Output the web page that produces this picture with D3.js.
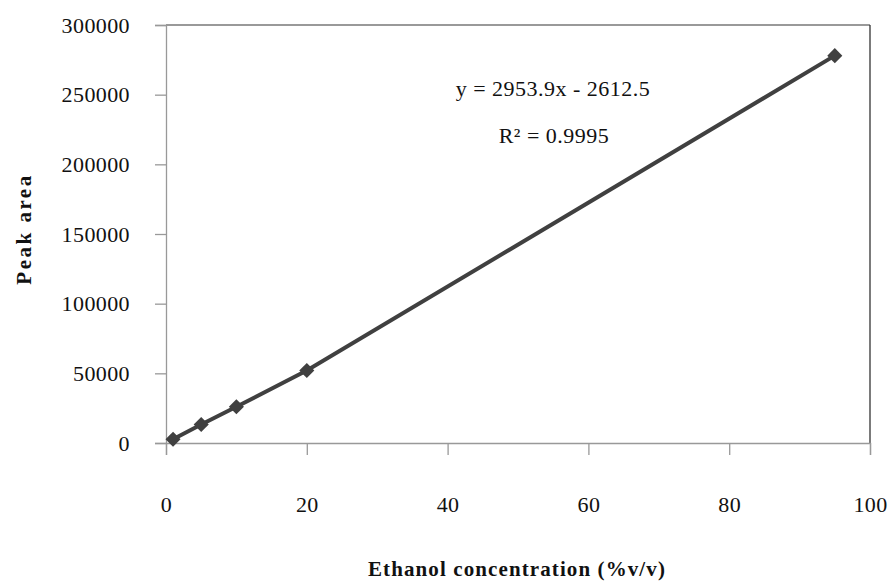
<!DOCTYPE html>
<html>
<head>
<meta charset="utf-8">
<script src="https://cdn.jsdelivr.net/npm/d3@7"></script>
<style>
  body { margin: 0; background: #fff; }
</style>
</head>
<body>
<script>
let width = 890;
let height = 584;
let serif = "'Liberation Serif', 'DejaVu Serif', serif";

// data
let concentrations = [1, 5, 10, 20, 95];
let peakAreas = [2700, 13300, 26000, 52000, 278000];
let xTicks = [0, 20, 40, 60, 80, 100];
let yTicks = [0, 50000, 100000, 150000, 200000, 250000, 300000];
let equationText = "y = 2953.9x - 2612.5";
let r2Text = "R\u00b2 = 0.9995";

let margin = { left: 166, right: 20, top: 25, bottom: 141 };

let svg = d3.select("body")
            .append("svg")
            .attr("width", width)
            .attr("height", height)
            .attr("font-family", serif);

let x = d3.scaleLinear().domain([0, 100]).range([margin.left, width - margin.right]);
let y = d3.scaleLinear().domain([0, 300000]).range([height - margin.bottom, margin.top]);

// plot frame: top and right
svg.append("line")
   .attr("x1", x(0)).attr("x2", x(100))
   .attr("y1", y(300000)).attr("y2", y(300000))
   .attr("stroke", "#777").attr("stroke-width", 1.3);
svg.append("line")
   .attr("x1", x(100)).attr("x2", x(100))
   .attr("y1", y(300000)).attr("y2", y(0))
   .attr("stroke", "#333").attr("stroke-width", 1.3);

// y axis
let yAxis = svg.append("g")
   .attr("transform", "translate(" + x(0) + ",0)")
   .call(d3.axisLeft(y).tickValues(yTicks).tickSize(11).tickPadding(25).tickFormat(d3.format("d")));

// x axis
let xAxis = svg.append("g")
   .attr("transform", "translate(0," + y(0) + ")")
   .call(d3.axisBottom(x).tickValues(xTicks).tickSize(12).tickPadding(41).tickFormat(d3.format("d")));

[yAxis, xAxis].forEach(function(a) {
  a.attr("font-family", serif).attr("font-size", 22);
  a.select(".domain").attr("stroke", "#999").attr("stroke-width", 1.3);
  a.selectAll(".tick line").attr("stroke", "#999").attr("stroke-width", 1.3);
  a.selectAll(".tick text").attr("fill", "#111").attr("letter-spacing", 0.4);
});

let points = concentrations.map(function(c, i) { return [c, peakAreas[i]]; });

// series line
let line = d3.line()
             .x(function(d) { return x(d[0]); })
             .y(function(d) { return y(d[1]); });

svg.append("path")
   .datum(points)
   .attr("d", line)
   .attr("fill", "none")
   .attr("stroke", "#404040")
   .attr("stroke-width", 4);

// diamond markers
svg.selectAll(".marker")
   .data(points)
   .enter()
   .append("path")
   .classed("marker", true)
   .attr("d", d3.symbol().type(d3.symbolDiamond2).size(145))
   .attr("transform", function(d) { return "translate(" + x(d[0]) + "," + y(d[1]) + ")"; })
   .attr("fill", "#404040");

// trendline label
svg.append("text")
   .attr("x", 553).attr("y", 96)
   .attr("text-anchor", "middle")
   .attr("font-size", 22)
   .attr("letter-spacing", 0.5)
   .attr("fill", "#111")
   .text(equationText);

svg.append("text")
   .attr("x", 554).attr("y", 143)
   .attr("text-anchor", "middle")
   .attr("font-size", 22)
   .attr("letter-spacing", 0.5)
   .attr("fill", "#111")
   .text(r2Text);

// axis titles
svg.append("text")
   .attr("x", 517).attr("y", 576)
   .attr("text-anchor", "middle")
   .attr("font-size", 21)
   .attr("font-weight", "bold")
   .attr("letter-spacing", 1.1)
   .attr("fill", "#111")
   .text("Ethanol concentration (%v/v)");

svg.append("text")
   .attr("transform", "translate(31,229) rotate(-90)")
   .attr("text-anchor", "middle")
   .attr("font-size", 21)
   .attr("font-weight", "bold")
   .attr("letter-spacing", 2.5)
   .attr("fill", "#111")
   .text("Peak area");
</script>
</body>
</html>
